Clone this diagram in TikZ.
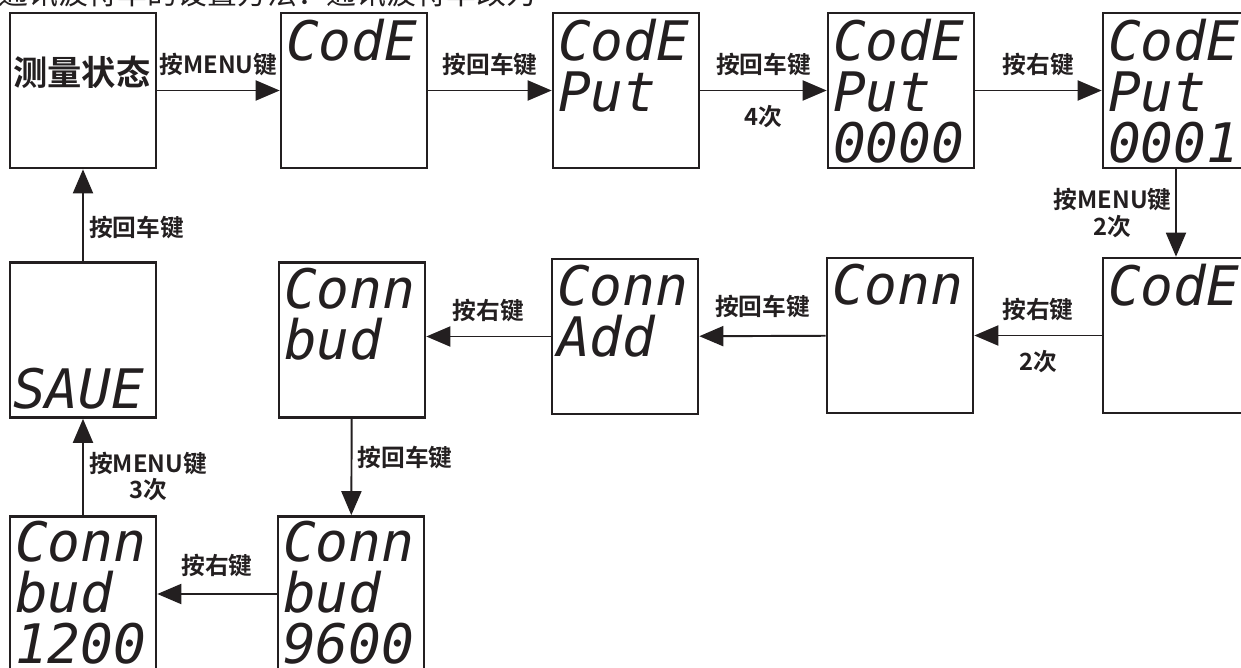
\documentclass[tikz,border=0pt]{standalone}
\usepackage{fontspec}
\newfontfamily\cjk[BoldFont={Noto Sans CJK SC Bold}]{Noto Sans CJK SC}
\newfontfamily\lcdfont{DejaVu Sans Mono}
\usetikzlibrary{arrows.meta}
\definecolor{ink}{RGB}{35,31,32}

\begin{document}
\begin{tikzpicture}[
x=0.02cm, y=-0.02cm, % 1 unit = 1 pixel of the sketch, y grows downwards
>={Triangle[length=0.48cm, width=0.4cm]},
disp/.style={draw=ink, line width=1.5pt, minimum width=2.92cm, minimum height=3.1cm, inner sep=0pt},
lcd/.style={font=\lcdfont\itshape\fontsize{31}{29}\selectfont, align=left, inner sep=0pt, anchor=north west, text=ink},
key/.style={font=\cjk\bfseries\fontsize{13.5}{15}\selectfont, text=ink, align=center, inner sep=1pt},
link/.style={->, draw=ink, line width=1.1pt}
]
\useasboundingbox (0,0) rectangle (1241,668);
\clip (0,0) rectangle (1241,668);

% --- heading (cut off at the top) ---
\node[font=\cjk\fontsize{17}{20}\selectfont, anchor=base west, inner sep=0pt, text=ink] (heading) at (-2,5) {通讯波特率的设置方法：通讯波特率改为};

% --- first row ---
\node[disp] (meas) at (83,90.5) {};
\node[font=\cjk\bfseries\fontsize{19.5}{22}\selectfont, text=ink, inner sep=0pt] (meastxt) at (82,72) {测量状态};

\node[disp] (code1) at (354,90.5) {};
\node[lcd] (code1txt) at ([shift={(6,7)}]code1.north west) {CodE};

\node[disp] (codeput) at (626,90.5) {};
\node[lcd] (codeputtxt) at ([shift={(6,7)}]codeput.north west) {CodE\\Put};

\node[disp] (put0) at (901,90.5) {};
\node[lcd] (put0txt) at ([shift={(6,7)}]put0.north west) {CodE\\Put\\0000};

\node[disp] (put1) at (1176,90.5) {};
\node[lcd] (put1txt) at ([shift={(6,7)}]put1.north west) {CodE\\Put\\0001};

% --- second row ---
\node[disp] (code2) at (1176,335.5) {};
\node[lcd] (code2txt) at ([shift={(6,7)}]code2.north west) {CodE};

\node[disp] (conn) at (900,335.5) {};
\node[lcd] (conntxt) at ([shift={(6,7)}]conn.north west) {Conn};

\node[disp] (connadd) at (625,336.5) {};
\node[lcd] (connaddtxt) at ([shift={(6,7)}]connadd.north west) {Conn\\Add};

\node[disp] (connbud) at (352,340) {};
\node[lcd] (connbudtxt) at ([shift={(6,7)}]connbud.north west) {Conn\\bud};

\node[disp] (save) at (83,340) {};
\node[lcd, anchor=base west] (savetxt) at ([shift={(4,-10)}]save.south west) {SAUE};

% --- third row ---
\node[disp] (baud96) at (351,594) {};
\node[lcd] (baud96txt) at ([shift={(6,6)}]baud96.north west) {Conn\\bud\\9600};

\node[disp] (baud12) at (83,594) {};
\node[lcd] (baud12txt) at ([shift={(6,6)}]baud12.north west) {Conn\\bud\\1200};

% --- key presses ---
\draw[link] (meas) -- node[key, above=7pt] (k1) {按MENU键} (code1);
\draw[link] (code1) -- node[key, above=7pt] (k2) {按回车键} (codeput);
\draw[link] (codeput) -- node[key, above=7pt] (k3) {按回车键}
  node[key, below=7pt] (k3n) {4次} (put0);
\draw[link] (put0) -- node[key, above=7pt] (k4) {按右键} (put1);
\draw[link] (put1) -- node[key, left=1pt] (k5) {按MENU键\\2次} (code2);
\draw[link] (code2) -- node[key, above=7pt] (k6) {按右键}
  node[key, below=7pt] (k6n) {2次} (conn);
\draw[link] (conn) -- node[key, above=9pt] (k7) {按回车键} (connadd);
\draw[link] (connadd.west) -- node[key, above=7pt] (k8) {按右键} (connadd.west -| connbud.east);
\draw[link] (connbud) -- node[key, right=2pt, pos=0.4] (k9) {按回车键} (baud96);
\draw[link] (baud96) -- node[key, above=8pt] (k10) {按右键} (baud12);
\draw[link] (baud12) -- node[key, right=2pt, pos=0.4] (k11) {按MENU键\\3次} (save);
\draw[link] (save) -- node[key, right=2pt, pos=0.37] (k12) {按回车键} (meas);

\end{tikzpicture}
\end{document}
